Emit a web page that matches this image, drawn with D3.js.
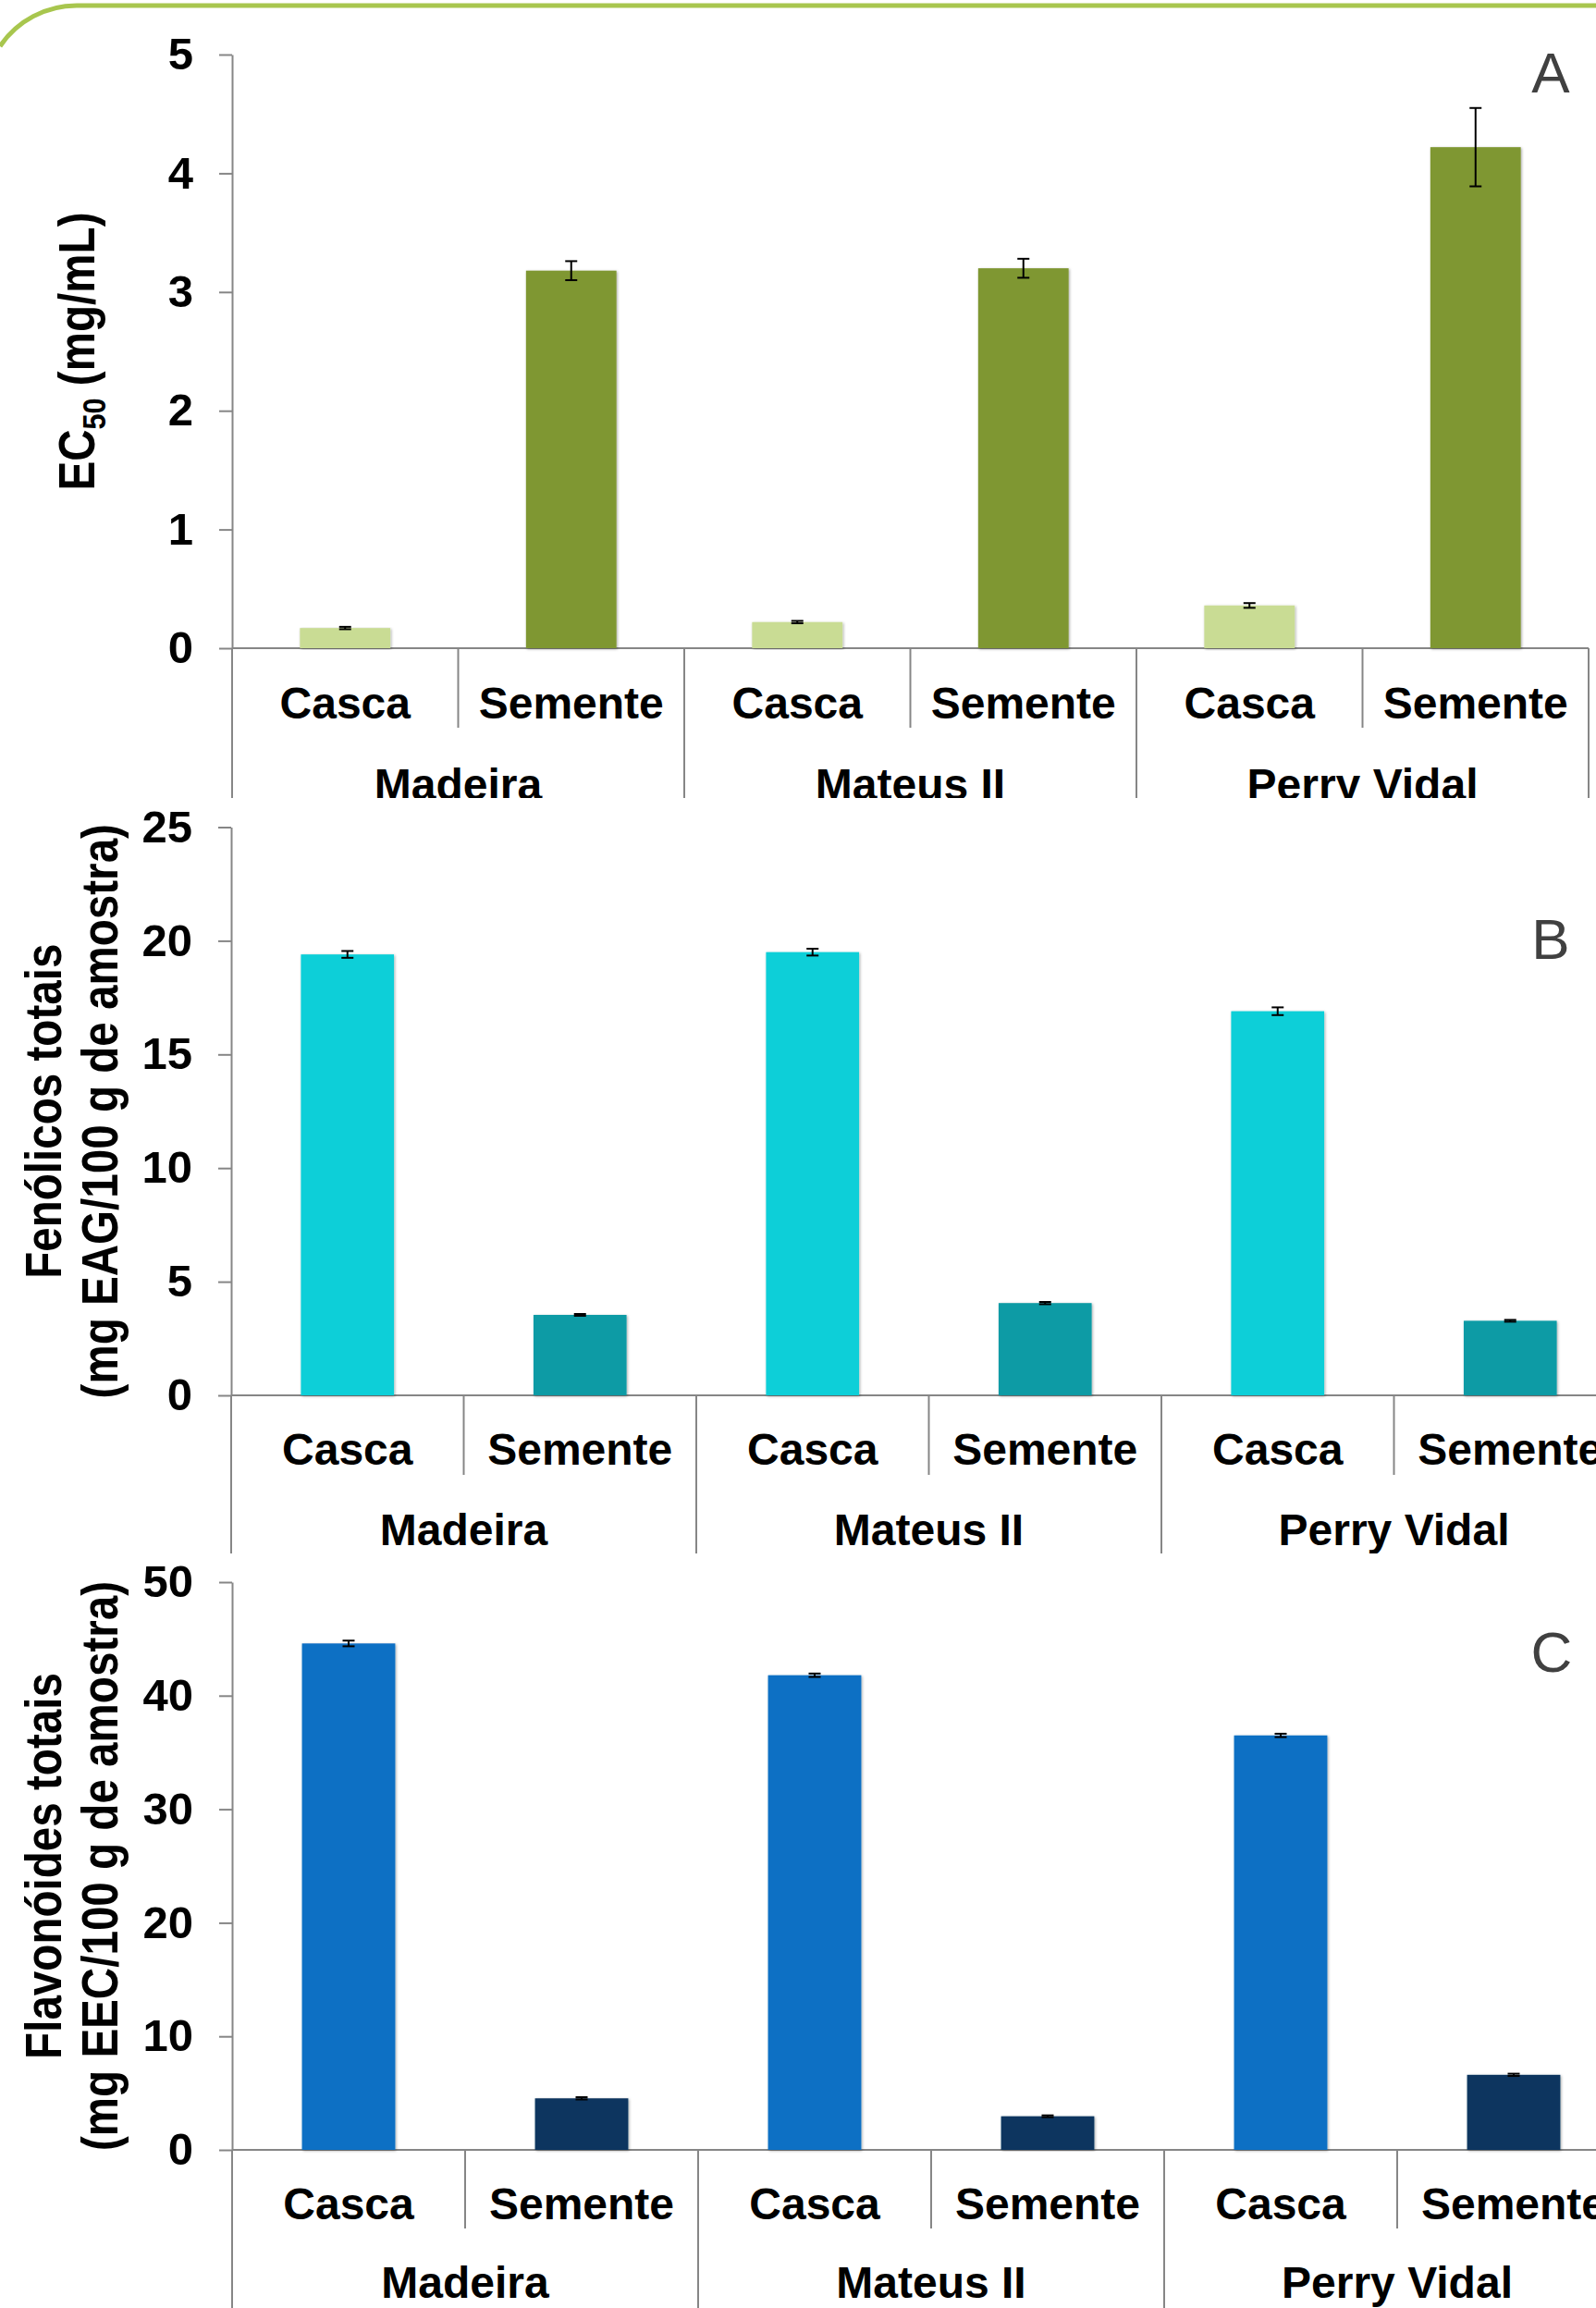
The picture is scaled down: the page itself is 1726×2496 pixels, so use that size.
<!DOCTYPE html>
<html>
<head>
<meta charset="utf-8">
<script src="https://cdn.jsdelivr.net/npm/d3@7"></script>
<style>
  body { margin: 0; background: #fff; }
  svg { display: block; }
  text { font-family: "Liberation Sans", Arial, sans-serif; }
</style>
</head>
<body>
<script>
// categories
var groups = ["Madeira", "Mateus II", "Perry Vidal"];
var parts = ["Casca", "Semente"];

// A - EC50 (mg/mL)
var ec50 = [0.17, 3.18, 0.22, 3.20, 0.36, 4.22];
var ec50Err = [0.01, 0.08, 0.01, 0.08, 0.02, 0.33];
var ec50Ticks = [0, 1, 2, 3, 4, 5];

// B - fenolicos totais
var fenolicos = [19.4, 3.54, 19.5, 4.06, 16.9, 3.28];
var fenolicosErr = [0.15, 0.04, 0.15, 0.05, 0.17, 0.04];
var fenolicosTicks = [0, 5, 10, 15, 20, 25];

// C - flavonoides totais
var flavonoides = [44.6, 4.54, 41.8, 2.96, 36.5, 6.61];
var flavonoidesErr = [0.25, 0.1, 0.15, 0.08, 0.15, 0.1];
var flavonoidesTicks = [0, 10, 20, 30, 40, 50];

var W = 1726, H = 2496;
var axisColor = "#868686";

var cats = [];
groups.forEach(function(g) { parts.forEach(function(p) { cats.push(g + "|" + p); }); });

var svg = d3.select("body").append("svg")
    .attr("width", W)
    .attr("height", H);

svg.append("rect").attr("width", W).attr("height", H).attr("fill", "#fff");

var defs = svg.append("defs");
defs.append("filter").attr("id", "sh")
    .attr("x", "-20%").attr("y", "-5%").attr("width", "140%").attr("height", "110%")
  .append("feDropShadow")
    .attr("dx", 1).attr("dy", 1).attr("stdDeviation", 1.8)
    .attr("flood-color", "#000").attr("flood-opacity", 0.35);

// green frame line at the top
svg.append("path")
    .attr("d", "M0,50 A100,100 0 0 1 83,6 L1726,6")
    .attr("fill", "none")
    .attr("stroke", "#a8c64e")
    .attr("stroke-width", 5);

var panels = [
  {id: "A", top: 0, bottom: 863, axisX: 251, band: 244.5, yTop: 59, y0: 701, max: 5,
   ticks: ec50Ticks, values: ec50, errs: ec50Err, colors: ["#c9dc94", "#7f9733"],
   catY: 777, divY: 787, groupY: 865, letterX: 1677, letterY: 100,
   title: [["EC", "50", " (mg/mL)"]], titleX: [102]},
  {id: "B", top: 863, bottom: 1680, axisX: 250, band: 251.5, yTop: 894.5, y0: 1509, max: 25,
   ticks: fenolicosTicks, values: fenolicos, errs: fenolicosErr, colors: ["#0ccfd8", "#0a9ba5"],
   catY: 1584, divY: 1595, groupY: 1671, letterX: 1677, letterY: 1037,
   title: ["Fenólicos totais", "(mg EAG/100 g de amostra)"], titleX: [66, 127]},
  {id: "C", top: 1680, bottom: 2496, axisX: 251, band: 252, yTop: 1711, y0: 2325, max: 50,
   ticks: flavonoidesTicks, values: flavonoides, errs: flavonoidesErr, colors: ["#116fc4", "#0a365f"],
   catY: 2400, divY: 2410, groupY: 2485, letterX: 1678, letterY: 1808,
   title: ["Flavonóides totais", "(mg EEC/100 g de amostra)"], titleX: [66, 127]}
];

panels.forEach(function(p) {
  defs.append("clipPath").attr("id", "clip" + p.id)
    .append("rect").attr("x", 0).attr("y", p.top).attr("width", W).attr("height", p.bottom - p.top);

  var g = svg.append("g").attr("clip-path", "url(#clip" + p.id + ")");

  var x = d3.scaleBand().domain(cats).range([p.axisX, p.axisX + cats.length * p.band]);
  var y = d3.scaleLinear().domain([0, p.max]).range([p.y0, p.yTop]);
  var bw = x.bandwidth() * 0.4;

  // y axis
  var yAxis = g.append("g")
      .attr("transform", "translate(" + p.axisX + ",0)")
      .call(d3.axisLeft(y).tickValues(p.ticks).tickFormat(d3.format("d"))
        .tickSize(14).tickSizeOuter(0).tickPadding(28));
  yAxis.select(".domain").attr("stroke", axisColor).attr("stroke-width", 2);
  yAxis.selectAll(".tick line").attr("stroke", axisColor).attr("stroke-width", 2);
  yAxis.selectAll(".tick text")
      .attr("fill", "#000")
      .style("font-size", "49px")
      .style("font-weight", "bold")
      .style("font-family", "'Liberation Sans', Arial, sans-serif");

  // x axis line
  g.append("line")
      .attr("x1", p.axisX).attr("x2", x.range()[1])
      .attr("y1", y(0)).attr("y2", y(0))
      .attr("stroke", axisColor).attr("stroke-width", 2);

  // category dividers
  d3.range(cats.length + 1).forEach(function(i) {
    var xx = p.axisX + i * p.band;
    g.append("line")
        .attr("x1", xx).attr("x2", xx)
        .attr("y1", y(0)).attr("y2", i % 2 === 0 ? p.bottom : p.divY)
        .attr("stroke", axisColor).attr("stroke-width", 2);
  });

  // bars
  g.selectAll(".bar")
      .data(p.values)
    .enter().append("rect")
      .attr("class", "bar")
      .attr("x", function(d, i) { return x(cats[i]) + (x.bandwidth() - bw) / 2; })
      .attr("y", function(d) { return y(d); })
      .attr("width", bw)
      .attr("height", function(d) { return y(0) - y(d); })
      .attr("fill", function(d, i) { return p.colors[i % 2]; })
      .attr("filter", "url(#sh)");

  // error bars
  var eb = g.selectAll(".err")
      .data(p.values)
    .enter().append("g")
      .attr("class", "err")
      .attr("stroke", "#000")
      .attr("stroke-width", 2);
  eb.append("line")
      .attr("x1", function(d, i) { return x(cats[i]) + x.bandwidth() / 2; })
      .attr("x2", function(d, i) { return x(cats[i]) + x.bandwidth() / 2; })
      .attr("y1", function(d, i) { return y(d + p.errs[i]); })
      .attr("y2", function(d, i) { return y(Math.max(0, d - p.errs[i])); });
  [1, -1].forEach(function(s) {
    eb.append("line")
        .attr("x1", function(d, i) { return x(cats[i]) + x.bandwidth() / 2 - 6.5; })
        .attr("x2", function(d, i) { return x(cats[i]) + x.bandwidth() / 2 + 6.5; })
        .attr("y1", function(d, i) { return y(d + s * p.errs[i]); })
        .attr("y2", function(d, i) { return y(d + s * p.errs[i]); });
  });

  // category labels
  g.selectAll(".cat")
      .data(cats)
    .enter().append("text")
      .attr("class", "cat")
      .attr("x", function(d) { return x(d) + x.bandwidth() / 2; })
      .attr("y", p.catY)
      .attr("text-anchor", "middle")
      .style("font-size", "48px")
      .style("font-weight", "bold")
      .text(function(d) { return d.split("|")[1]; });

  // group labels
  g.selectAll(".grp")
      .data(groups)
    .enter().append("text")
      .attr("class", "grp")
      .attr("x", function(d, i) { return p.axisX + (i * 2 + 1) * p.band; })
      .attr("y", p.groupY)
      .attr("text-anchor", "middle")
      .style("font-size", "48px")
      .style("font-weight", "bold")
      .text(function(d) { return d; });

  // panel letter
  g.append("text")
      .attr("x", p.letterX)
      .attr("y", p.letterY)
      .attr("text-anchor", "middle")
      .attr("fill", "#404040")
      .style("font-size", "62px")
      .text(p.id);

  // y title (rotated, slightly condensed)
  var cy = (p.yTop + p.y0) / 2;
  p.title.forEach(function(line, li) {
    var t = g.append("text")
        .attr("transform", "translate(" + p.titleX[li] + "," + cy + ") rotate(-90) scale(0.85,1)")
        .attr("text-anchor", "middle")
        .style("font-size", "56px")
        .style("font-weight", "bold");
    if (typeof line === "string") {
      t.text(line);
    } else {
      t.append("tspan").text(line[0]);
      t.append("tspan").attr("dy", 12).style("font-size", "36px").text(line[1]);
      t.append("tspan").attr("dy", -12).text(line[2]);
    }
  });
});
</script>
</body>
</html>
